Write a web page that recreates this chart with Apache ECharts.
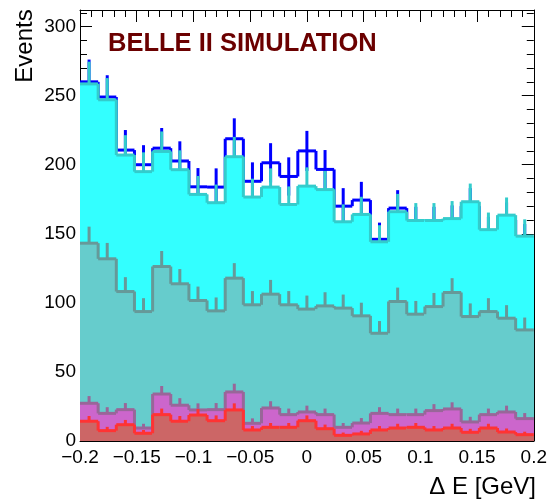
<!DOCTYPE html>
<html>
<head>
    <meta charset="utf-8">
    <title>Delta E</title>
    <script src="https://cdn.jsdelivr.net/npm/echarts@6/dist/echarts.min.js"></script>
    <style>
        html, body {
            margin: 0;
            padding: 0;
            background: #fff;
        }

        #main {
            width: 550px;
            height: 499px;
        }
    </style>
</head>
<body>
<div id="main"></div>
<script>
    // 25 bins between -0.2 and 0.2 GeV
    var xMin = -0.2, xMax = 0.2, nBins = 25;
    var yMax = 312;
    var xTickLabels = ['\u22120.2', '\u22120.15', '\u22120.1', '\u22120.05', '0', '0.05', '0.1', '0.15', '0.2'];
    var yTickLabels = ['0', '50', '100', '150', '200', '250', '300'];

    // blue histogram (drawn under the stack)
    var dataEvents = [260, 249, 210.6, 200, 212, 202.7, 184, 183.8, 218.8, 188,
        201.4, 191.5, 210, 196.6, 170, 174.4, 146, 168.6, 157, 157,
        158, 170, 150, 160, 145];
    // top of each stacked layer (cumulative)
    var cyanTop = [258.5, 247, 207, 195, 209.6, 196.4, 178.5, 172.5, 205.8, 176.6,
        183.8, 171.2, 184.5, 182, 158.7, 164, 144.2, 166, 159.6, 159.6,
        161, 173.2, 153, 163.5, 148.3];
    var tealTop = [143.2, 131.9, 108.2, 93.7, 126.3, 113.8, 101.7, 94.2, 117.9, 98.6,
        106.3, 98.6, 95.5, 97.8, 96.2, 90.6, 78, 101, 91.8, 97.3,
        107.5, 90.1, 93.7, 88.9, 80.4];
    var purpleTop = [27.3, 20, 22.7, 9.4, 34, 25.9, 22.5, 22.7, 35.5, 12.8,
        23.9, 19.1, 21, 19.1, 9.9, 13, 20, 19.1, 19.1, 22,
        23.2, 13.8, 19.1, 21, 16.2];
    var redTop = [14.3, 7.5, 11.8, 5.6, 19.1, 14.3, 18.8, 14.7, 22.5, 8,
        9.9, 9.9, 14.7, 8.9, 4.1, 5.1, 8, 9.4, 9.9, 8,
        9.4, 6.3, 9.4, 6.5, 4.6];

    var binW = (xMax - xMin) / nBins;
    var FONT = '"Liberation Sans", Arial, Helvetica, sans-serif';

    // step histogram with fill and poisson error bar per bin
    function histSeries(name, tops, fill, stroke, symErr) {
        return {
            type: 'custom',
            name: name,
            clip: true,
            data: tops.map(function (v, i) {
                return [i, v];
            }),
            renderItem: function (params, api) {
                var i = api.value(0), v = api.value(1);
                var lo = xMin + i * binW, hi = lo + binW, mid = lo + binW / 2;
                var pTL = api.coord([lo, v]), pBR = api.coord([hi, 0]);
                var kids = [];
                var ls = {stroke: stroke, lineWidth: 3};
                if (fill) {
                    // snap to whole pixels so neighbouring bins don't leave seams
                    var x0 = Math.floor(pTL[0]), x1 = Math.ceil(pBR[0]);
                    kids.push({
                        type: 'rect',
                        shape: {x: x0, y: pTL[1], width: x1 - x0, height: pBR[1] - pTL[1]},
                        style: {fill: fill}
                    });
                }
                var err = Math.sqrt(v);
                var eTop = api.coord([mid, v + err]);
                var eBot = api.coord([mid, symErr ? v - err : v]);
                kids.push({type: 'line', shape: {x1: eTop[0], y1: eTop[1], x2: eBot[0], y2: eBot[1]}, style: ls});
                if (i > 0) {
                    var pPrev = api.coord([lo, tops[i - 1]]);
                    kids.push({type: 'line', shape: {x1: pPrev[0], y1: pPrev[1], x2: pTL[0], y2: pTL[1]}, style: ls});
                }
                kids.push({type: 'line', shape: {x1: pTL[0], y1: pTL[1], x2: pBR[0], y2: pTL[1]}, style: ls});
                return {type: 'group', children: kids};
            }
        };
    }

    function xAxisDef(pos, showLabel) {
        return {
            type: 'value',
            position: pos,
            min: xMin,
            max: xMax,
            interval: 0.05,
            axisLine: {show: true, onZero: false, lineStyle: {color: '#000', width: 1}},
            axisTick: {show: true, inside: true, length: 12, lineStyle: {color: '#000'}},
            minorTick: {show: true, splitNumber: 5, length: 7, lineStyle: {color: '#000'}},
            splitLine: {show: false},
            axisLabel: {
                show: showLabel,
                margin: 7,
                fontSize: 19,
                fontFamily: FONT,
                color: '#000',
                formatter: function (val) {
                    var k = Math.round((val - xMin) / 0.05);
                    return xTickLabels[k] || '';
                }
            }
        };
    }

    function yAxisDef(pos, showLabel) {
        return {
            type: 'value',
            position: pos,
            min: 0,
            max: yMax,
            interval: 50,
            axisLine: {show: true, onZero: false, lineStyle: {color: '#000', width: 1}},
            axisTick: {show: true, inside: true, length: 12, lineStyle: {color: '#000'}},
            minorTick: {show: true, splitNumber: 5, length: 7, lineStyle: {color: '#000'}},
            splitLine: {show: false},
            axisLabel: {
                show: showLabel,
                margin: 4,
                fontSize: 19,
                fontFamily: FONT,
                color: '#000',
                formatter: function (val) {
                    if (val % 50 !== 0) return '';
                    return yTickLabels[val / 50] || '';
                }
            }
        };
    }

    var myChart = echarts.init(document.getElementById('main'));
    var option = {
        animation: false,
        backgroundColor: '#fff',
        grid: {left: 80, top: 10, width: 456, height: 431},
        xAxis: [xAxisDef('bottom', true), xAxisDef('top', false)],
        yAxis: [yAxisDef('left', true), yAxisDef('right', false)],
        graphic: [
            {
                type: 'text', left: 108, top: 31,
                style: {text: 'BELLE II SIMULATION', font: 'bold 25.5px ' + FONT, fill: '#6b0000'}
            },
            {
                type: 'text', x: 25, y: 46, rotation: Math.PI / 2,
                style: {text: 'Events', font: '24px ' + FONT, fill: '#000', align: 'center', verticalAlign: 'middle'}
            },
            {
                type: 'text', x: 536, y: 487,
                style: {text: '\u0394 E [GeV]', font: '24px ' + FONT, fill: '#000', align: 'right', verticalAlign: 'middle'}
            }
        ],
        series: [
            histSeries('data', dataEvents, null, '#0000ff', true),
            histSeries('cyan', cyanTop, '#33ffff', '#33cccc', false),
            histSeries('teal', tealTop, '#66cccc', '#669999', false),
            histSeries('purple', purpleTop, '#cc66cc', '#996699', false),
            histSeries('red', redTop, '#cc6666', '#ff3333', false)
        ]
    };
    myChart.setOption(option);
</script>
</body>
</html>
